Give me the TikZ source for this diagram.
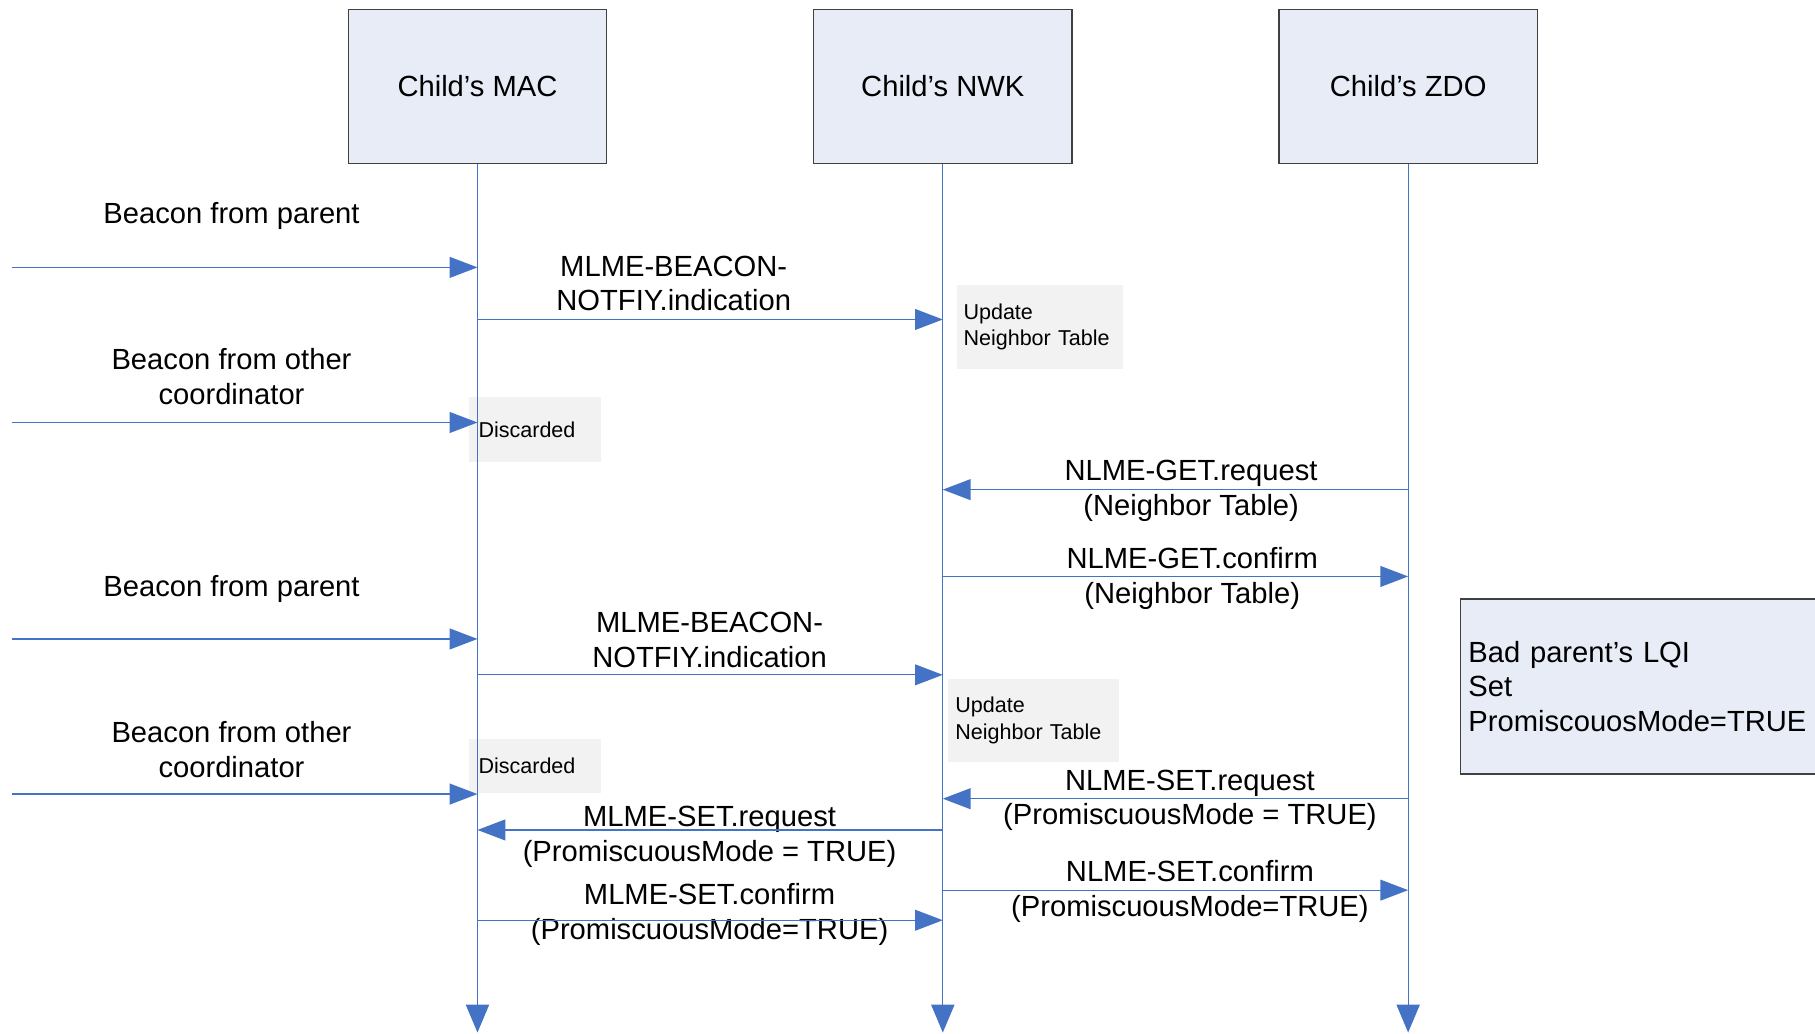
\documentclass[tikz,border=0pt]{standalone}
\usepackage{fontspec}
\setmainfont{Liberation Sans}
\usetikzlibrary{arrows.meta,calc}
\definecolor{lineblue}{HTML}{4472C4}
\definecolor{boxfill}{HTML}{E7ECF6}
\definecolor{notefill}{HTML}{F2F2F2}
\definecolor{boxline}{HTML}{404040}
\begin{document}
\begin{tikzpicture}[x=0.5pt,y=-0.5pt,
  lifebox/.style={draw=boxline,line width=0.6pt,fill=boxfill,minimum width=111.5pt,minimum height=66.5pt,inner sep=0pt,font=\fontsize{12.6}{15}\selectfont},
  msg/.style={draw=lineblue,line width=0.55pt,-{Triangle[length=12pt,width=9pt]}},
  lifeline/.style={draw=lineblue,line width=0.55pt,-{Triangle[length=12pt,width=10pt]}},
  lbl/.style={font=\fontsize{12.6}{15}\selectfont,align=center,inner sep=0pt,yshift=-1pt},
  notebox/.style={fill=notefill,anchor=north west,inner ysep=0pt,align=left,font=\fontsize{9.3}{11.3}\selectfont},
  bigbox/.style={draw=boxline,line width=0.6pt,fill=boxfill,anchor=north west,inner ysep=0pt,inner xsep=3.5pt,align=left,text width=150pt,minimum height=75.5pt,font=\fontsize{12.6}{15}\selectfont}
]
\useasboundingbox (0,0) rectangle (1568,893);
\clip (0,0) rectangle (1568,893);

% lifeline heads
\node[lifebox] (mac) at (412.5,74.5) {Child’s MAC};
\node[lifebox] (nwk) at (814.5,74.5) {Child’s NWK};
\node[lifebox] (zdo) at (1216.5,74.5) {Child’s ZDO};

% gray notes (under the lifelines)
\node[notebox,inner xsep=3pt,text width=66pt,minimum height=36pt] (upd1) at (826,246) {Update\\Neighbor Table};
\node[notebox,inner xsep=4pt,text width=49pt,minimum height=28pt] (dis1) at (405,343) {Discarded};
\node[notebox,inner xsep=3pt,text width=67.5pt,minimum height=36pt] (upd2) at (819,586) {Update\\Neighbor Table};
\node[notebox,inner xsep=4pt,text width=49pt,minimum height=23.5pt] (dis2) at (405,638) {Discarded};

% right box
\node[bigbox] (bad) at (1261,517) {Bad parent’s LQI\\Set\\PromiscouosMode=TRUE};

% lifelines
\coordinate (macend) at (412.5,892);
\coordinate (nwkend) at (814.5,892);
\coordinate (zdoend) at (1216.5,892);
\draw[lifeline] (mac.south) -- (macend);
\draw[lifeline] (nwk.south) -- (nwkend);
\draw[lifeline] (zdo.south) -- (zdoend);

% free ends of incoming beacons
\coordinate (b1) at (10,231);
\coordinate (b2) at (10,365);
\coordinate (b3) at (10,552);
\coordinate (b4) at (10,686);

% labels
\node[lbl] (l1) at (200,185) {Beacon from parent};
\node[lbl] (l2) at (582,243) {MLME-BEACON-\\NOTFIY.indication};
\node[lbl] (l3) at (200,323.5) {Beacon from other\\coordinator};
\node[lbl] (l4) at (1029,422) {NLME-GET.request\\(Neighbor Table)};
\node[lbl] (l5) at (1030,498) {NLME-GET.confirm\\(Neighbor Table)};
\node[lbl] (l6) at (200,507) {Beacon from parent};
\node[lbl] (l7) at (613,551) {MLME-BEACON-\\NOTFIY.indication};
\node[lbl] (l8) at (200,645.5) {Beacon from other\\coordinator};
\node[lbl] (l9) at (1028,689.5) {NLME-SET.request\\(PromiscuousMode = TRUE)};
\node[lbl] (l10) at (613,721) {MLME-SET.request\\(PromiscuousMode = TRUE)};
\node[lbl] (l11) at (1028,768) {NLME-SET.confirm\\(PromiscuousMode=TRUE)};
\node[lbl] (l12) at (613,788) {MLME-SET.confirm\\(PromiscuousMode=TRUE)};

% messages
\draw[msg] (b1) -- (b1 -| mac.south);
\draw[msg] (mac.south |- 0,276) -- (nwk.south |- 0,276);
\draw[msg] (b2) -- (b2 -| mac.south);
\draw[msg] (zdo.south |- 0,423) -- (nwk.south |- 0,423);
\draw[msg] (nwk.south |- 0,498) -- (zdo.south |- 0,498);
\draw[msg] (b3) -- (b3 -| mac.south);
\draw[msg] (mac.south |- 0,583) -- (nwk.south |- 0,583);
\draw[msg] (b4) -- (b4 -| mac.south);
\draw[msg] (zdo.south |- 0,690) -- (nwk.south |- 0,690);
\draw[msg] (nwk.south |- 0,717) -- (mac.south |- 0,717);
\draw[msg] (nwk.south |- 0,769) -- (zdo.south |- 0,769);
\draw[msg] (mac.south |- 0,795) -- (nwk.south |- 0,795);
\end{tikzpicture}
\end{document}
